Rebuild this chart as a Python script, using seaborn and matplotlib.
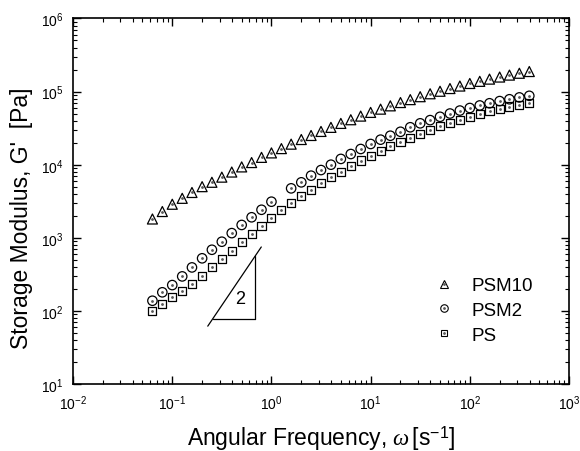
"""
Storage modulus G' vs angular frequency for PS / PSM2 / PSM10
"""
import numpy as np
import pandas as pd
import seaborn as sns
import matplotlib
matplotlib.use('Agg')
import matplotlib.pyplot as plt
from matplotlib.ticker import LogLocator, NullFormatter
from matplotlib.lines import Line2D

# ==================== data ====================
omega = [0.0631, 0.0794, 0.1, 0.126, 0.158, 0.2, 0.251, 0.316, 0.398, 0.501,
         0.631, 0.794, 1.0, 1.26, 1.58, 2.0, 2.51, 3.16, 3.98, 5.01,
         6.31, 7.94, 10.0, 12.6, 15.8, 20.0, 25.1, 31.6, 39.8, 50.1,
         63.1, 79.4, 100.0, 126.0, 158.0, 200.0, 251.0, 316.0, 398.0]

g_psm10 = [1810, 2290, 2880, 3470, 4170, 5010, 5750, 6760, 7940, 9330,
           10700, 12600, 14500, 16600, 19100, 22100, 25100, 28500, 32400, 36700,
           41200, 46200, 51900, 57500, 63800, 70800, 77600, 85100, 93300, 101000,
           110000, 119000, 129000, 138000, 148000, 158000, 168000, 178000, 188000]

g_psm2 = [138, 180, 226, 297, 394, 525, 687, 885, 1160, 1500,
          1910, 2420, 3120, np.nan, 4750, 5740, 7080, 8450, 10000, 12000,
          14000, 16400, 19200, 22000, 24900, 28200, 32500, 36800, 40700, 45200,
          50100, 55000, 59600, 64600, 69200, 74100, 78500, 83200, 87500]

g_ps = [101, 124, 156, 189, 233, 297, 394, 513, 667, 867,
        1130, 1470, 1850, 2400, 2990, 3770, 4510, 5560, 6730, 7870,
        9510, 11400, 13300, 15600, 17900, 20200, 22900, 26300, 29500, 33500,
        37600, 41200, 45200, 49500, 53700, 58200, 62400, 66100, 70000]

series_names = ['PSM10', 'PSM2', 'PS']
series_markers = ['^', 'o', 's']

# slope-2 guide triangle
slope_x = [0.228, 0.79]
slope_y = [62, 750]
base_x = [0.256, 0.684]
base_y = [78, 78]
side_x = [0.684, 0.684]
side_y = [78, 558]

# ==================== style ====================
sns.set_style('ticks')
plt.rcParams['font.family'] = ['Liberation Sans', 'DejaVu Sans']
plt.rcParams['mathtext.fontset'] = 'custom'
plt.rcParams['mathtext.rm'] = 'Liberation Sans'
plt.rcParams['mathtext.it'] = 'Liberation Serif:italic'
plt.rcParams['text.color'] = 'black'
plt.rcParams['axes.labelcolor'] = 'black'

fig = plt.figure(figsize=(5.8, 4.52), dpi=100)
ax = fig.add_axes([0.126, 0.148, 0.855, 0.809])

df = pd.DataFrame({'omega': omega, 'PSM10': g_psm10, 'PSM2': g_psm2, 'PS': g_ps})
sizes = {'PSM10': 52, 'PSM2': 46, 'PS': 34}
legend_ms = {'PSM10': 6.0, 'PSM2': 5.4, 'PS': 4.9}

for name, mk in zip(series_names, series_markers):
    sub = df[['omega', name]].dropna()
    sns.scatterplot(data=sub, x='omega', y=name, marker=mk, s=sizes[name],
                    color='black', facecolors='none', edgecolor='black',
                    linewidth=0.9, ax=ax, zorder=3)
    # tiny centre dot in each symbol
    ax.plot(sub['omega'], sub[name], ls='none', marker='o', ms=1.0,
            color='0.35', zorder=4)

ax.plot(slope_x, slope_y, color='black', lw=0.9)
ax.plot(base_x, base_y, color='black', lw=0.9)
ax.plot(side_x, side_y, color='black', lw=0.9)
ax.text(0.48, 150, '2', fontsize=13, ha='center', va='center')

ax.set_xscale('log')
ax.set_yscale('log')
ax.set_xlim(1e-2, 1e3)
ax.set_ylim(1e1, 1e6)

ax.xaxis.set_major_locator(LogLocator(base=10, numticks=10))
ax.yaxis.set_major_locator(LogLocator(base=10, numticks=10))
ax.xaxis.set_minor_locator(LogLocator(base=10, subs=np.arange(2, 10), numticks=20))
ax.yaxis.set_minor_locator(LogLocator(base=10, subs=np.arange(2, 10), numticks=20))
ax.xaxis.set_minor_formatter(NullFormatter())
ax.yaxis.set_minor_formatter(NullFormatter())

ax.tick_params(which='both', direction='in', top=True, right=True, colors='black')
ax.tick_params(which='major', length=5.5, width=1.0, labelsize=10, pad=7)
ax.tick_params(which='minor', length=3, width=0.8)
for sp in ax.spines.values():
    sp.set_linewidth(1.2)
    sp.set_color('black')

ax.set_xlabel(r'Angular Frequency, $\omega\,$[s$^{-1}$]', fontsize=16.5, labelpad=7.5)
ax.set_ylabel("Storage Modulus, G'  [Pa]", fontsize=16.5)
ax.yaxis.set_label_coords(-0.081, 0.457)

handles = []
for n, mk in zip(series_names, series_markers):
    sym = Line2D([], [], ls='none', marker=mk, ms=legend_ms[n], mfc='none',
                 mec='black', mew=0.8)
    dot = Line2D([], [], ls='none', marker='o', ms=1.0, color='0.35')
    handles.append((sym, dot))
ax.legend(handles, series_names, loc='upper left', bbox_to_anchor=(0.71, 0.318),
          frameon=False, fontsize=13.5, handlelength=1.0, handletextpad=0.95,
          labelspacing=0.4, borderpad=0)

plt.savefig('out.png', dpi=100)
plt.close('all')
